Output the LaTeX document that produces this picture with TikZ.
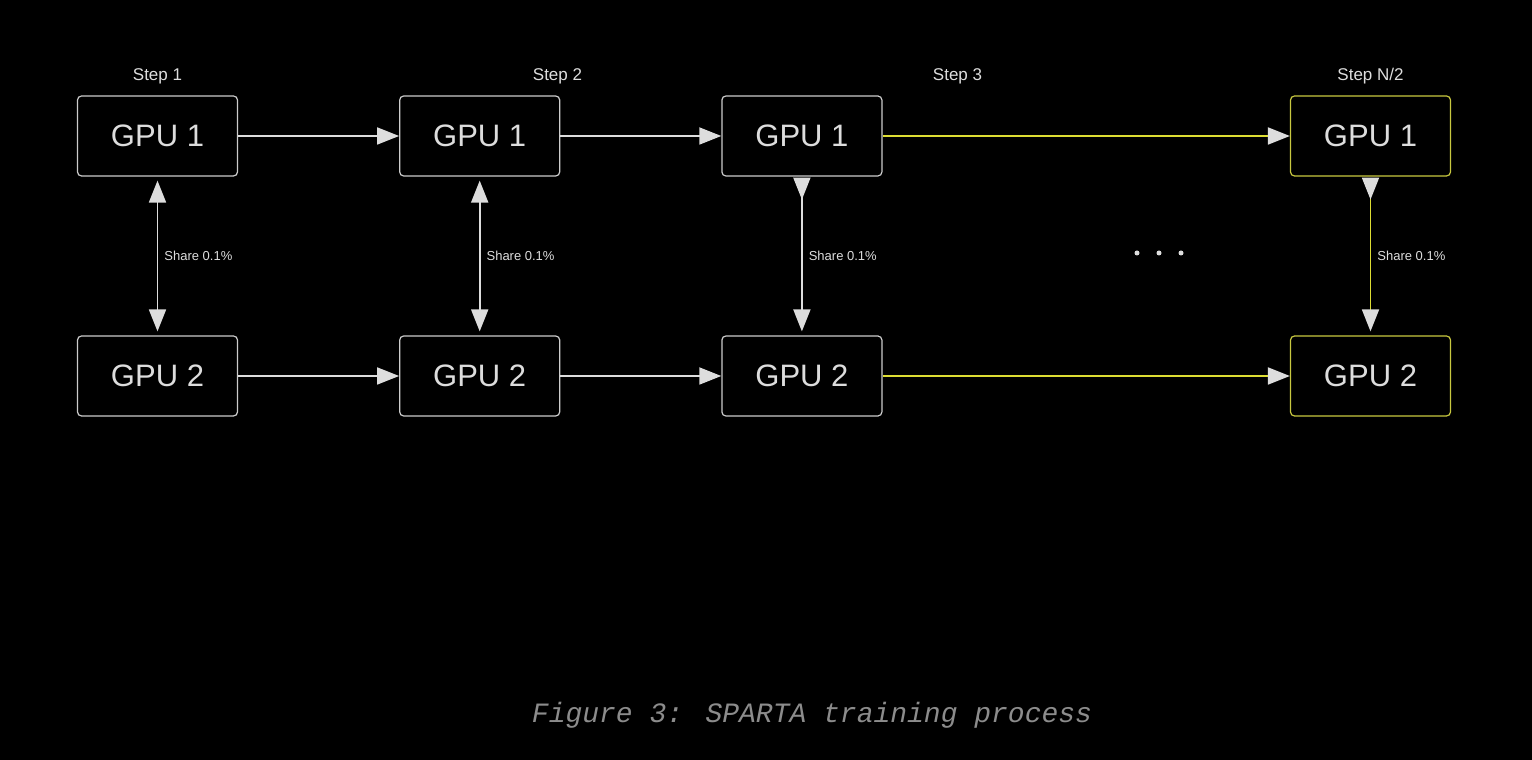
\documentclass[tikz,border=0pt]{standalone}
\usepackage{fontspec}
\setmainfont{Liberation Sans}
\newfontfamily\capfont{Liberation Mono}
\usetikzlibrary{positioning,arrows.meta}
\definecolor{lgray}{HTML}{DDDDDD}
\definecolor{bgray}{HTML}{CCCCCC}
\definecolor{ylw}{HTML}{DDDD33}
\definecolor{ybox}{HTML}{C8C840}
\begin{document}
\begin{tikzpicture}[x=1pt,y=1pt,node distance=240pt and 161pt,
        main/.style = {draw=bgray, rounded corners=4pt, line width=1.2pt, minimum width=160pt, minimum height=80pt, text=lgray, font=\fontsize{31}{31}\selectfont},
        lastbox/.style = {main, draw=ybox},
        steplbl/.style = {text=lgray, font=\fontsize{17}{17}\selectfont},
        sharelbl/.style = {text=lgray, font=\fontsize{13}{13}\selectfont, right, inner sep=6pt},
        harrow/.style = {line width=1.8pt, -{Triangle[length=22pt,width=17pt,color=lgray]}},
        twoway/.style = {line width=1.8pt, {Triangle[length=22pt,width=17pt,color=lgray]}-{Triangle[length=22pt,width=17pt,color=lgray]}},
        oneway/.style = {line width=1.8pt, {Triangle[length=22pt,width=17pt,color=lgray,reversed]}-{Triangle[length=22pt,width=17pt,color=lgray]}}]
    \fill[black] (0,0) rectangle (1532,760);
    \useasboundingbox (0,0) rectangle (1532,760);

    \node[main] (a1) at (157.5,624) {GPU 1};
    \node[main] (b1) [right=of a1] {GPU 1};
    \node[main] (c1) [right=of b1] {GPU 1};
    \node[lastbox] (d1) at (1370.5,624) {GPU 1};
    \node[main] (a2) at (157.5,384) {GPU 2};
    \node[main] (b2) [right=of a2] {GPU 2};
    \node[main] (c2) [right=of b2] {GPU 2};
    \node[lastbox] (d2) at (1370.5,384) {GPU 2};

    \node[steplbl] (s1) at (157.5,684) {Step 1};
    \node[steplbl] (s2) at (557.5,684) {Step 2};
    \node[steplbl] (s3) at (957.5,684) {Step 3};
    \node[steplbl] (s4) at (1370.5,684) {Step N/2};

    \draw[harrow, lgray] (a1) -- (b1);
    \draw[harrow, lgray] (b1) -- (c1);
    \draw[harrow, ylw] (c1) -- (d1);
    \draw[harrow, lgray] (a2) -- (b2);
    \draw[harrow, lgray] (b2) -- (c2);
    \draw[harrow, ylw] (c2) -- (d2);

    \draw[twoway, lgray, shorten <=4pt, shorten >=4pt] (a1) -- node[sharelbl] {Share 0.1\%} (a2);
    \draw[twoway, lgray, shorten <=4pt, shorten >=4pt] (b1) -- node[sharelbl] {Share 0.1\%} (b2);
    \draw[oneway, lgray, shorten <=1pt, shorten >=4pt] (c1) -- node[sharelbl] {Share 0.1\%} (c2);
    \draw[oneway, ylw, shorten <=1pt, shorten >=4pt] (d1) -- node[sharelbl] {Share 0.1\%} (d2);

    \foreach \x in {1137,1159,1181}
        \fill[lgray] (\x,507) circle (2.5);

    \node[text=gray!90, font=\capfont\itshape\fontsize{28}{28}\selectfont] (cap) at (812,45) {Figure 3: SPARTA training process};
\end{tikzpicture}
\end{document}
